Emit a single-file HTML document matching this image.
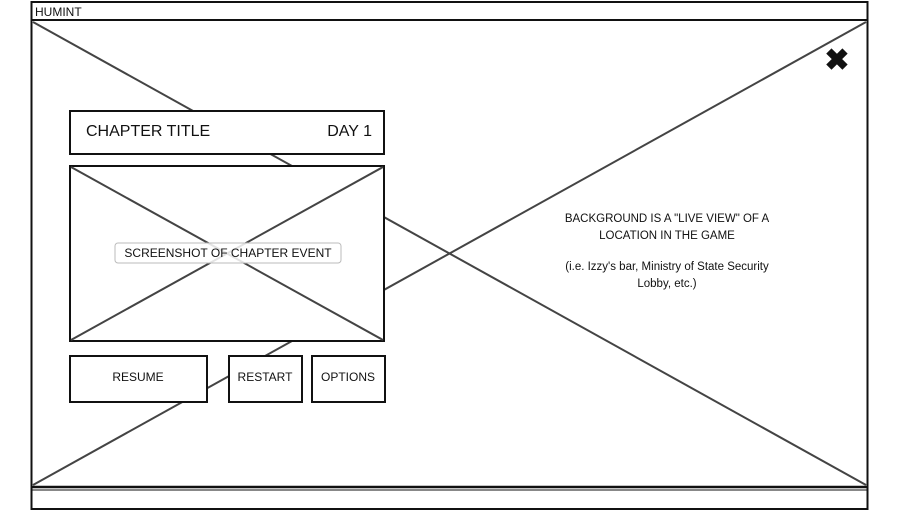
<!DOCTYPE html>
<html><head><style>body{margin:0;background:#fff}svg{display:block}text{font-family:"Liberation Sans",sans-serif;fill:#111}</style></head><body>
<svg width="900" height="512" viewBox="0 0 900 512">
<rect width="900" height="512" fill="#fff"/>
<rect x="31.5" y="2" width="836" height="507" fill="none" stroke="#111" stroke-width="2"/>
<line x1="31" y1="20" x2="868" y2="20" stroke="#111" stroke-width="2"/>
<text x="35" y="16" font-size="12">HUMINT</text>
<line x1="31" y1="487" x2="868" y2="487" stroke="#111" stroke-width="2.5"/>
<line x1="31" y1="490" x2="868" y2="490" stroke="#111" stroke-width="1"/>
<line x1="33" y1="22" x2="866" y2="485" stroke="#444" stroke-width="2"/>
<line x1="33" y1="485" x2="866" y2="22" stroke="#444" stroke-width="2"/>
<text x="837" y="70" font-size="30" font-weight="bold" text-anchor="middle">✖</text>
<text font-size="11.5" text-anchor="middle"><tspan x="667" y="222">BACKGROUND IS A "LIVE VIEW" OF A</tspan><tspan x="667" y="239">LOCATION IN THE GAME</tspan></text>
<text font-size="11.5" text-anchor="middle"><tspan x="667" y="270">(i.e. Izzy's bar, Ministry of State Security</tspan><tspan x="667" y="287">Lobby, etc.)</tspan></text>
<rect x="70" y="111" width="314" height="43" fill="#fff" stroke="#111" stroke-width="2"/>
<text x="86" y="136" font-size="16">CHAPTER TITLE</text>
<text x="372" y="136" font-size="16" text-anchor="end">DAY 1</text>
<rect x="70" y="166" width="314" height="175" fill="#fff" stroke="#111" stroke-width="2"/>
<line x1="71" y1="167" x2="383" y2="340" stroke="#444" stroke-width="2"/>
<line x1="71" y1="340" x2="383" y2="167" stroke="#444" stroke-width="2"/>
<rect x="115" y="243" width="226" height="20" rx="3" fill="#fff" fill-opacity="0.85" stroke="#bbb"/>
<text x="228" y="257" font-size="12" text-anchor="middle">SCREENSHOT OF CHAPTER EVENT</text>
<rect x="70" y="356" width="137" height="46" fill="#fff" stroke="#111" stroke-width="2"/>
<text x="138" y="381" font-size="12" text-anchor="middle">RESUME</text>
<rect x="229" y="356" width="73" height="46" fill="#fff" stroke="#111" stroke-width="2"/>
<text x="265" y="381" font-size="12" text-anchor="middle">RESTART</text>
<rect x="312" y="356" width="73" height="46" fill="#fff" stroke="#111" stroke-width="2"/>
<text x="348" y="381" font-size="12" text-anchor="middle">OPTIONS</text>
</svg>
</body></html>
